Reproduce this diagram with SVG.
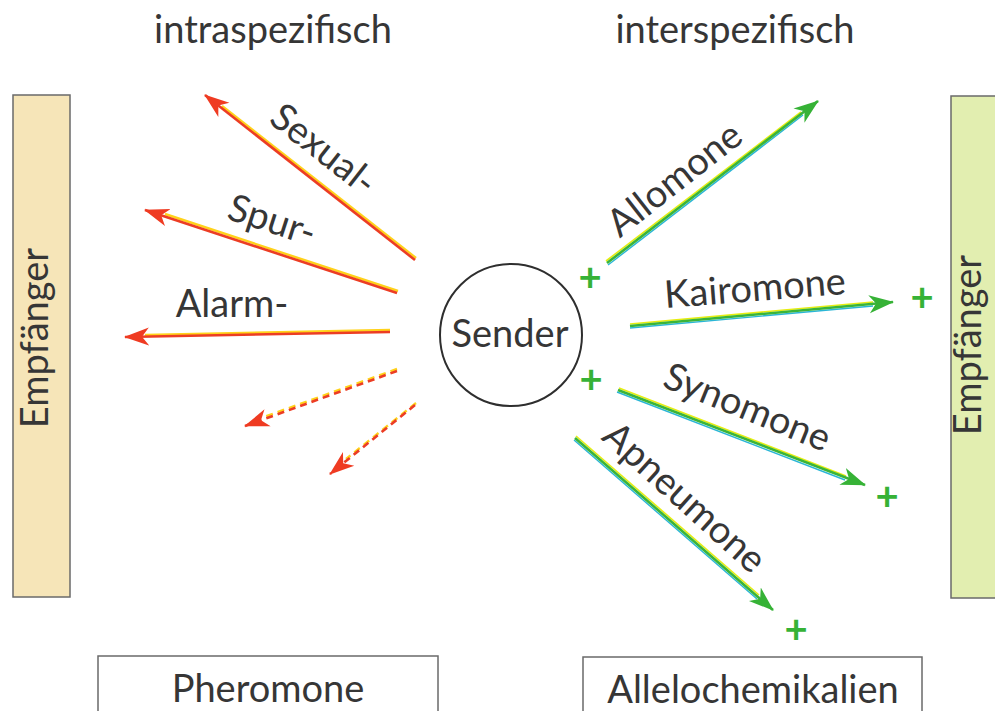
<svg xmlns="http://www.w3.org/2000/svg" width="995" height="711" viewBox="0 0 995 711">
<style>
.t{font-family:Lato,"Open Sans","Liberation Sans",sans-serif;fill:#363636;font-size:38px}
.c{text-anchor:middle}
.plus{font-family:Lato,"Liberation Sans",sans-serif;font-weight:bold;font-size:40px;fill:#36b236;text-anchor:middle}
.red{stroke:#ec3d24;stroke-width:2.6;fill:none}
.ry{stroke:#ffd21a;stroke-width:2.4;fill:none}
.grn{stroke:#3ab43a;stroke-width:2.6;fill:none}
.gy{stroke:#e6ee10;stroke-width:1.6;fill:none}
.gc{stroke:#2ab6d6;stroke-width:1.4;fill:none}
.dash{stroke-dasharray:7 5}
.box{stroke:#6a6a6a;stroke-width:1.5}
</style>
<defs>
<marker id="ahR" markerUnits="userSpaceOnUse" markerWidth="26" markerHeight="22" refX="24" refY="11" orient="auto">
<path d="M0,2 L25,11 L0,20 L7,11 z" fill="#ef3b22"/>
</marker>
<marker id="ahG" markerUnits="userSpaceOnUse" markerWidth="26" markerHeight="22" refX="24" refY="11" orient="auto">
<path d="M0,2 L25,11 L0,20 L7,11 z" fill="#36b236"/>
</marker>
</defs>
<rect width="995" height="711" fill="#ffffff"/>

<g id="title-intra"><text class="t c" x="273" y="43">intraspezifisch</text></g>
<g id="title-inter"><text class="t c" x="735" y="43">interspezifisch</text></g>

<g id="empf-left">
<rect class="box" x="13" y="95" width="57" height="502" fill="#f6e5b8"/>
<text class="t c" transform="translate(48,338) rotate(-90)">Empfänger</text>
</g>
<g id="empf-right">
<rect class="box" x="951" y="96" width="50" height="502" fill="#e2eeb0"/>
<text class="t c" transform="translate(981,345) rotate(-90)">Empfänger</text>
</g>

<g id="sender">
<circle cx="511" cy="335" r="71" fill="#ffffff" stroke="#2e2e2e" stroke-width="2"/>
<text class="t c" x="510" y="347">Sender</text>
</g>

<g id="pheromone">
<rect class="box" x="98" y="656" width="340" height="62" fill="#ffffff"/>
<text class="t c" x="268" y="702">Pheromone</text>
</g>
<g id="allelochemikalien">
<rect class="box" x="583" y="657" width="339" height="62" fill="#ffffff"/>
<text class="t c" x="753" y="703">Allelochemikalien</text>
</g>

<g id="connectors">
<line class="ry" x1="416" y1="258" x2="222" y2="106"/>
<line class="red" x1="415" y1="260" x2="205" y2="95" marker-end="url(#ahR)"/>
<line class="ry" x1="398" y1="291" x2="165" y2="214"/>
<line class="red" x1="397" y1="293" x2="145" y2="210" marker-end="url(#ahR)"/>
<line class="ry" x1="390" y1="330" x2="145" y2="335"/>
<line class="red" x1="390" y1="332" x2="125" y2="337" marker-end="url(#ahR)"/>
<line class="ry dash" x1="397" y1="369" x2="264" y2="417"/>
<line class="red dash" x1="397" y1="371" x2="245" y2="426" marker-end="url(#ahR)"/>
<line class="ry dash" x1="416" y1="403" x2="346" y2="459"/>
<line class="red dash" x1="415" y1="405" x2="330" y2="474" marker-end="url(#ahR)"/>

<line class="gy" x1="606" y1="261" x2="801" y2="112"/>
<line class="gc" x1="608" y1="265" x2="803" y2="115"/>
<line class="grn" x1="607" y1="263" x2="818" y2="101" marker-end="url(#ahG)"/>
<line class="gy" x1="630" y1="324" x2="873" y2="302"/>
<line class="gc" x1="630" y1="328" x2="873" y2="306"/>
<line class="grn" x1="630" y1="326" x2="893" y2="302" marker-end="url(#ahG)"/>
<line class="gy" x1="619" y1="388" x2="846" y2="476"/>
<line class="gc" x1="617" y1="392" x2="845" y2="480"/>
<line class="grn" x1="618" y1="390" x2="865" y2="485" marker-end="url(#ahG)"/>
<line class="gy" x1="576" y1="436" x2="759" y2="595"/>
<line class="gc" x1="574" y1="440" x2="757" y2="599"/>
<line class="grn" x1="575" y1="438" x2="773" y2="610" marker-end="url(#ahG)"/>
</g>

<g id="labels">
<text class="t c" transform="translate(323,150) rotate(38)" y="12">Sexual-</text>
<text class="t c" transform="translate(272,221) rotate(18)" y="12">Spur-</text>
<text class="t c" x="232" y="317">Alarm-</text>
<text class="t c" transform="translate(675,180) rotate(-38)" y="12">Allomone</text>
<text class="t c" transform="translate(755,289) rotate(-4.5)" y="12">Kairomone</text>
<text class="t c" transform="translate(747,408) rotate(22)" y="12">Synomone</text>
<text class="t c" transform="translate(684,498) rotate(42)" y="12">Apneumone</text>
</g>

<g id="plus-signs">
<text class="plus" x="590" y="291">+</text>
<text class="plus" x="922" y="311">+</text>
<text class="plus" x="591" y="393">+</text>
<text class="plus" x="887" y="510">+</text>
<text class="plus" x="796" y="643">+</text>
</g>
</svg>
